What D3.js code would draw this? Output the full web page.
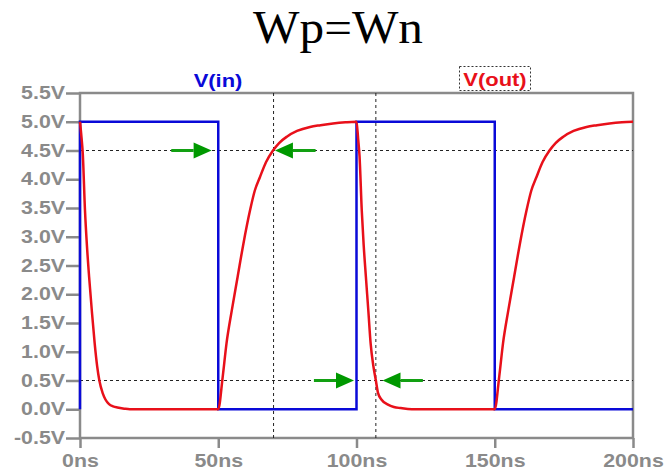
<!DOCTYPE html>
<html>
<head>
<meta charset="utf-8">
<script src="https://cdn.jsdelivr.net/npm/d3@7"></script>
<style>
  body { margin: 0; background: #fff; }
  svg { display: block; }
</style>
</head>
<body>
<svg width="666" height="476"></svg>
<script>
// data
var timeTicks = [0, 50, 100, 150, 200];
var timeLabels = ['0ns', '50ns', '100ns', '150ns', '200ns'];
var voltTicks = [-0.5, 0, 0.5, 1, 1.5, 2, 2.5, 3, 3.5, 4, 4.5, 5, 5.5];

// V(in) square wave
var vinT = [0, 0, 50, 50, 100, 100, 150, 150, 200];
var vinV = [0, 5, 5, 0, 0, 5, 5, 0, 0];

// V(out) inverter output
var voutT = [0, 0.5, 1.0, 1.8, 2.5, 3.3, 4.3, 5.3, 6.2, 7.0, 8.2, 9.2, 10.5, 12, 13.5, 16, 18,
    50, 51.6, 53, 54.9, 57, 59.1, 61.5, 63.2, 65.1, 67.3, 69.8, 72, 74.8, 78.5, 83.2, 87, 91.5, 96, 100,
    100.6, 101.1, 101.9, 102.6, 103.4, 104.3, 105.1, 106.1, 107.0, 107.8, 109, 111.4, 113.5, 116, 120,
    150, 151.6, 153, 154.9, 157, 159.1, 161.5, 163.2, 165.1, 167.3, 169.8, 172, 174.8, 178.5, 183.2, 187, 191.5, 196, 200];
var voutV = [5.0, 4.75, 4.45, 3.46, 2.85, 2.3, 1.7, 1.15, 0.75, 0.5, 0.28, 0.17, 0.09, 0.05, 0.03, 0.01, 0,
    0, 0.56, 1.15, 1.72, 2.3, 2.88, 3.46, 3.8, 4.04, 4.3, 4.5, 4.63, 4.74, 4.84, 4.91, 4.94, 4.97, 4.99, 5.0,
    4.7, 4.4, 3.46, 2.85, 2.3, 1.7, 1.15, 0.75, 0.5, 0.28, 0.17, 0.08, 0.04, 0.02, 0,
    0, 0.56, 1.15, 1.72, 2.3, 2.88, 3.46, 3.8, 4.04, 4.3, 4.5, 4.63, 4.74, 4.84, 4.91, 4.94, 4.97, 4.99, 5.0];

// cursors (dotted lines)
var cursorT = [70, 107];
var cursorV = [4.5, 0.5];

// green arrows: level, tail time, tip time
var arrowV = [4.5, 4.5, 0.5, 0.5];
var arrowFrom = [33, 85.2, 84.6, 124];
var arrowTo = [47.6, 70.5, 99.1, 109.4];

var svg = d3.select('svg');
var plotLeft = 80, plotRight = 633, plotTop = 93, plotBottom = 438;
var gray = '#8a8a8a';
var sans = '"Liberation Sans", Arial, sans-serif';
// the screenshot's text is a bit wider than normal
var wide = 1.22;

var x = d3.scaleLinear().domain([0, 200]).range([plotLeft, plotRight]);
var y = d3.scaleLinear().domain([-0.5, 5.5]).range([plotBottom, plotTop]);

// title
svg.append('g')
    .attr('transform', 'translate(338,43)')
  .append('text')
    .attr('transform', 'scale(1.07,1)')
    .attr('text-anchor', 'middle')
    .style('font-family', '"Liberation Serif", "Times New Roman", serif')
    .style('font-size', '46px')
    .text('Wp=Wn');

// trace names
svg.append('g')
    .attr('transform', 'translate(218,87)')
  .append('text')
    .attr('transform', 'scale(' + wide + ',1)')
    .attr('text-anchor', 'middle')
    .attr('fill', '#0a0ad8')
    .style('font-family', sans)
    .style('font-weight', 'bold')
    .style('font-size', '18px')
    .text('V(in)');

svg.append('rect')
    .attr('x', 459.5).attr('y', 66.5)
    .attr('width', 71).attr('height', 24)
    .attr('fill', 'none')
    .attr('stroke', '#333')
    .attr('stroke-width', 1)
    .attr('stroke-dasharray', '2,2');

svg.append('g')
    .attr('transform', 'translate(495,86)')
  .append('text')
    .attr('transform', 'scale(' + wide + ',1)')
    .attr('text-anchor', 'middle')
    .attr('fill', '#e8101a')
    .style('font-family', sans)
    .style('font-weight', 'bold')
    .style('font-size', '18px')
    .text('V(out)');

// axes
var yAxis = svg.append('g')
    .attr('transform', 'translate(' + plotLeft + ',0)')
    .call(d3.axisLeft(y).tickValues(voltTicks).tickSize(14).tickPadding(1)
        .tickFormat(function(d) { return d.toFixed(1) + 'V'; }));

var xAxis = svg.append('g')
    .attr('transform', 'translate(0,' + plotBottom + ')')
    .call(d3.axisBottom(x).tickValues(timeTicks).tickSize(10).tickPadding(7)
        .tickFormat(function(d, i) { return timeLabels[i]; }));

[yAxis, xAxis].forEach(function(ax) {
    ax.select('.domain').remove();
    ax.selectAll('line').attr('stroke', gray).attr('stroke-width', 2.5);
    ax.selectAll('text')
        .attr('fill', gray)
        .attr('transform', 'scale(' + wide + ',1)')
        .style('font-family', sans)
        .style('font-weight', 'bold')
        .style('font-size', '17.5px');
});
yAxis.selectAll('text').attr('x', -15 / wide);

// frame
svg.append('rect')
    .attr('x', plotLeft).attr('y', plotTop)
    .attr('width', plotRight - plotLeft).attr('height', plotBottom - plotTop)
    .attr('fill', 'none')
    .attr('stroke', gray)
    .attr('stroke-width', 2.5);

// dotted cursors
svg.selectAll('.vcur').data(cursorT).enter().append('line')
    .attr('x1', function(d) { return x(d); }).attr('x2', function(d) { return x(d); })
    .attr('y1', plotTop).attr('y2', plotBottom)
    .attr('stroke', '#222').attr('stroke-width', 1)
    .attr('stroke-dasharray', '3,3');

svg.selectAll('.hcur').data(cursorV).enter().append('line')
    .attr('x1', plotLeft).attr('x2', plotRight)
    .attr('y1', function(d) { return y(d); }).attr('y2', function(d) { return y(d); })
    .attr('stroke', '#222').attr('stroke-width', 1)
    .attr('stroke-dasharray', '3,3');

// traces
var stepLine = d3.line()
    .x(function(d) { return x(d[0]); })
    .y(function(d) { return y(d[1]); });

var smoothLine = d3.line()
    .curve(d3.curveMonotoneX)
    .x(function(d) { return x(d[0]); })
    .y(function(d) { return y(d[1]); });

svg.append('path')
    .datum(d3.zip(vinT, vinV))
    .attr('d', stepLine)
    .attr('fill', 'none')
    .attr('stroke', '#0a0ad8')
    .attr('stroke-width', 2.5);

svg.append('path')
    .datum(d3.zip(voutT, voutV))
    .attr('d', smoothLine)
    .attr('fill', 'none')
    .attr('stroke', '#e8101a')
    .attr('stroke-width', 2.5)
    .attr('stroke-linejoin', 'round');

// green arrows
var headLen = 18, headHalf = 8;
var arrows = svg.append('g').attr('class', 'arrows');
for (var i = 0; i < arrowV.length; i++) {
    var ay = y(arrowV[i]);
    var tail = x(arrowFrom[i]);
    var tip = x(arrowTo[i]);
    var dir = tip > tail ? 1 : -1;
    var base = tip - dir * headLen;
    arrows.append('line')
        .attr('x1', tail).attr('y1', ay)
        .attr('x2', base).attr('y2', ay)
        .attr('stroke', '#12a012')
        .attr('stroke-width', 3);
    arrows.append('path')
        .attr('d', 'M' + tip + ',' + ay + 'L' + base + ',' + (ay - headHalf) + 'L' + base + ',' + (ay + headHalf) + 'Z')
        .attr('fill', '#009900');
}
</script>
</body>
</html>
